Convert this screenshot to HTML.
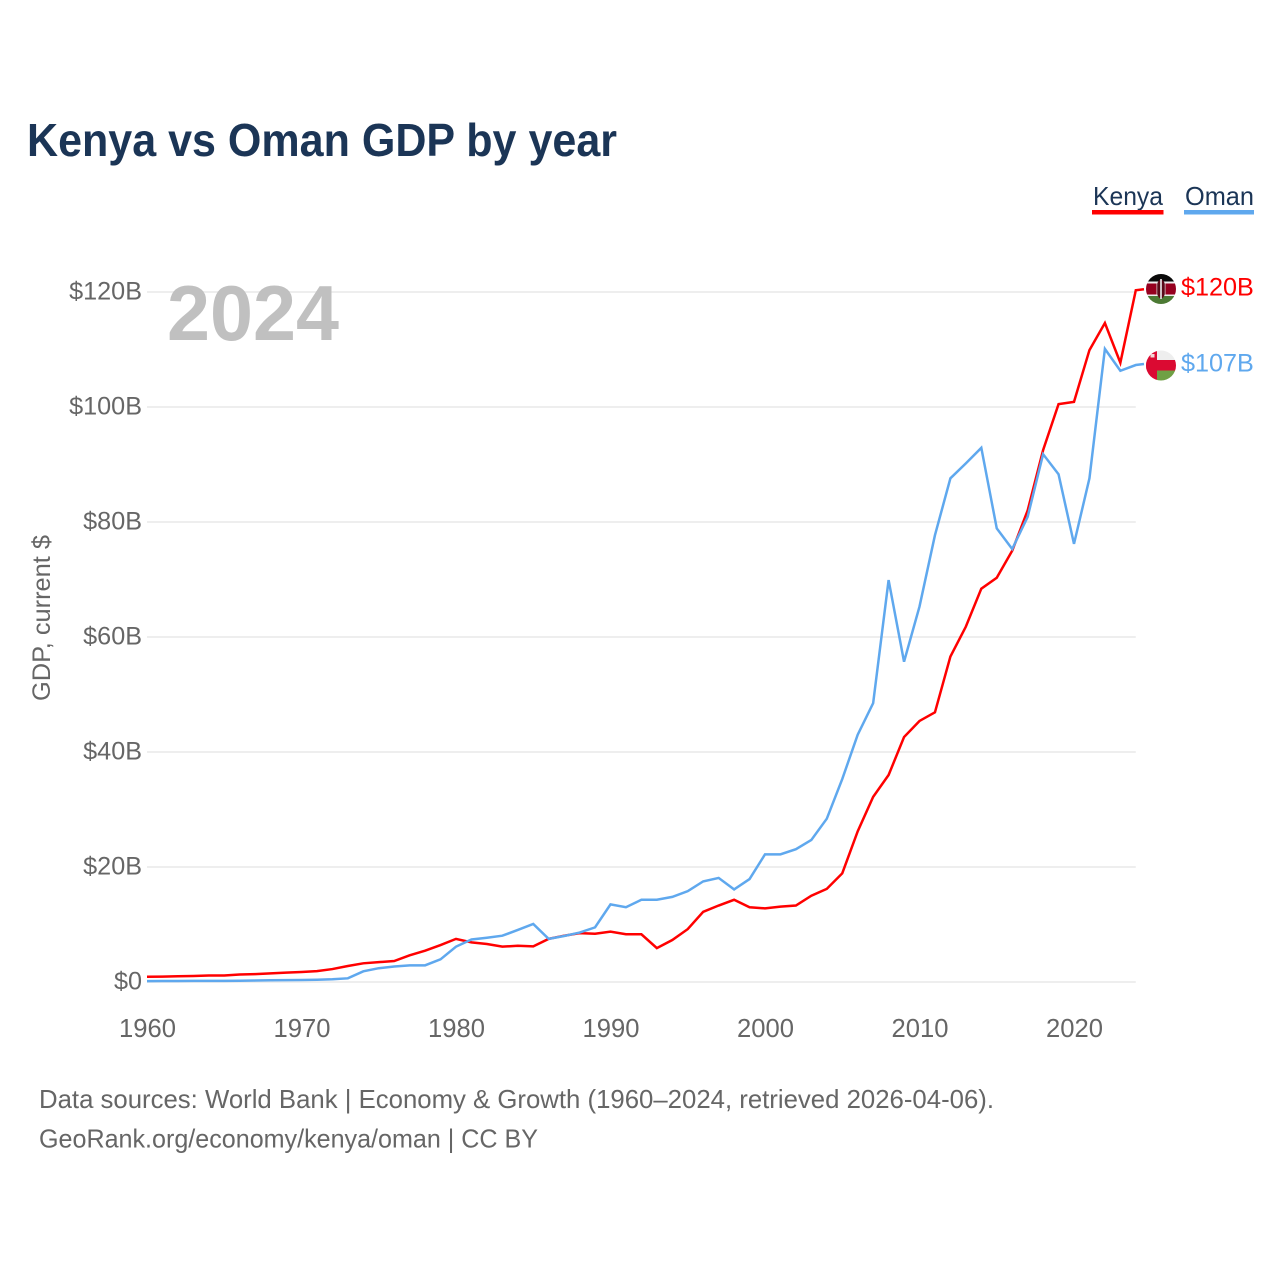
<!DOCTYPE html>
<html lang="en">
<head>
<meta charset="utf-8">
<title>Kenya vs Oman GDP by year</title>
<style>
html,body{margin:0;padding:0;background:#fff;}
svg{display:block;font-family:"Liberation Sans",sans-serif;}
</style>
</head>
<body>
<svg id="chart" width="1280" height="1280" viewBox="0 0 1280 1280" xmlns="http://www.w3.org/2000/svg">
  <defs>
    <clipPath id="clip-kenya"><circle cx="1161" cy="289" r="15"/></clipPath>
    <clipPath id="clip-oman"><circle cx="1161" cy="365.5" r="15"/></clipPath>
  </defs>
  <rect width="1280" height="1280" fill="#fff"/>
  <text x="27" y="156" font-size="46" font-weight="700" fill="#1b3556" textLength="590" lengthAdjust="spacingAndGlyphs">Kenya vs Oman GDP by year</text>

  <g id="grid"></g>
  <g id="y-ticks"></g>
  <g id="x-ticks"></g>

  <text x="167" y="340" font-size="78" font-weight="700" fill="#c0c0c0" textLength="172" lengthAdjust="spacingAndGlyphs">2024</text>
  <text transform="translate(50,618) rotate(-90)" text-anchor="middle" font-size="25" fill="#666" textLength="166" lengthAdjust="spacingAndGlyphs">GDP, current $</text>

  <g id="series"></g>

  <g>
    <g>
      <text x="1093" y="205" font-size="26" fill="#1b3556" textLength="70" lengthAdjust="spacingAndGlyphs">Kenya</text>
      <rect x="1092" y="210" width="71.5" height="4.5" fill="#ff0000"/>
    </g>
    <g>
      <text x="1185" y="205" font-size="26" fill="#1b3556" textLength="69" lengthAdjust="spacingAndGlyphs">Oman</text>
      <rect x="1184" y="210" width="70" height="4.5" fill="#5fa8ee"/>
    </g>
  </g>

  <g clip-path="url(#clip-kenya)">
    <rect x="1146" y="274" width="30" height="8" fill="#0a0a0a"/>
    <rect x="1146" y="281.5" width="30" height="2" fill="#eee"/>
    <rect x="1146" y="283.5" width="30" height="11" fill="#96001f"/>
    <rect x="1146" y="294.5" width="30" height="2" fill="#eee"/>
    <rect x="1146" y="296" width="30" height="9" fill="#4c7a34"/>
    <ellipse cx="1161" cy="289" rx="4.5" ry="9.5" fill="#5a0a18"/>
    <rect x="1160.2" y="279" width="1.6" height="20" fill="#eee"/>
    <rect x="1156.4" y="283" width="0.9" height="12" fill="#eee" opacity="0.7"/>
    <rect x="1164.7" y="283" width="0.9" height="12" fill="#eee" opacity="0.7"/>
  </g>
  <g clip-path="url(#clip-oman)">
    <rect x="1146" y="350" width="30" height="11" fill="#eeeeee"/>
    <rect x="1146" y="350" width="11" height="31" fill="#db0a32"/>
    <rect x="1146" y="360" width="30" height="10.5" fill="#db0a32"/>
    <rect x="1157" y="370.5" width="19" height="11" fill="#6fa044"/>
    <rect x="1150.5" y="354" width="4" height="3.5" fill="#f4d6d6"/>
  </g>

  <text x="1181" y="295.5" font-size="25.2" fill="#ff0000">$120B</text>
  <text x="1181" y="371.5" font-size="25.2" fill="#5fa8ee">$107B</text>

  <text x="39" y="1108" font-size="26" fill="#666" textLength="955" lengthAdjust="spacingAndGlyphs">Data sources: World Bank | Economy &amp; Growth (1960–2024, retrieved 2026-04-06).</text>
  <text x="39" y="1147.5" font-size="26" fill="#666" textLength="499" lengthAdjust="spacingAndGlyphs">GeoRank.org/economy/kenya/oman | CC BY</text>
</svg>
<script>
const startYear = 1960;
const yTicks = [0, 20, 40, 60, 80, 100, 120];
const yTickLabels = ["$0", "$20B", "$40B", "$60B", "$80B", "$100B", "$120B"];
const xTicks = [1960, 1970, 1980, 1990, 2000, 2010, 2020];
const kenyaGdp = [0.92,0.93,0.99,1.05,1.12,1.14,1.3,1.38,1.5,1.62,1.75,1.9,2.25,2.78,3.25,3.45,3.65,4.64,5.44,6.43,7.5,6.9,6.6,6.15,6.3,6.2,7.5,8.05,8.5,8.4,8.75,8.3,8.3,5.9,7.3,9.2,12.2,13.3,14.3,13.0,12.8,13.1,13.3,15.0,16.2,18.9,26.2,32.2,36.0,42.6,45.4,46.9,56.6,61.8,68.4,70.3,75.0,82.0,92.5,100.5,100.9,109.9,114.6,107.7,120.3];
const omanGdp = [0.15,0.17,0.18,0.19,0.2,0.2,0.22,0.25,0.3,0.33,0.35,0.4,0.47,0.64,1.86,2.4,2.7,2.9,2.9,3.95,6.15,7.4,7.7,8.05,9.05,10.1,7.5,8.0,8.6,9.5,13.5,13.0,14.3,14.3,14.8,15.8,17.5,18.1,16.1,17.9,22.2,22.2,23.1,24.7,28.4,35.3,43.0,48.5,69.9,55.7,65.3,77.7,87.6,90.2,92.9,78.9,75.3,80.9,91.8,88.3,76.2,87.6,110.1,106.3,107.3];

const SVG_NS = "http://www.w3.org/2000/svg";
const xScale = function (year) { return 147 + (year - 1960) * 15.45; };
const yScale = function (value) { return 982 - value * 5.75; };

const grid = document.getElementById("grid");
const yGroup = document.getElementById("y-ticks");
const xGroup = document.getElementById("x-ticks");
const seriesGroup = document.getElementById("series");

yTicks.forEach(function (tick, i) {
  const line = document.createElementNS(SVG_NS, "line");
  
  
  line.setAttribute("x1", xScale(1960));
  line.setAttribute("x2", xScale(2024));
  line.setAttribute("y1", yScale(tick));
  line.setAttribute("y2", yScale(tick));
  line.setAttribute("stroke", "#eeeeee");
  line.setAttribute("stroke-width", "2");
  grid.appendChild(line);

  const label = document.createElementNS(SVG_NS, "text");
  
  
  label.setAttribute("x", 142);
  label.setAttribute("y", yScale(tick) + 7.5);
  label.setAttribute("text-anchor", "end");
  label.setAttribute("font-size", "25.2");
  label.setAttribute("fill", "#666");
  label.textContent = yTickLabels[i];
  yGroup.appendChild(label);
});

xTicks.forEach(function (tick) {
  const label = document.createElementNS(SVG_NS, "text");
  
  
  label.setAttribute("x", xScale(tick) + 0.5);
  label.setAttribute("y", 1037);
  label.setAttribute("text-anchor", "middle");
  label.setAttribute("font-size", "25.6");
  label.setAttribute("fill", "#666");
  label.textContent = String(tick);
  xGroup.appendChild(label);
});

function drawSeries(values, color, name) {
  const path = document.createElementNS(SVG_NS, "path");
  
  
  let d = "";
  values.forEach(function (value, i) {
    d += (i === 0 ? "M" : "L") + xScale(startYear + i).toFixed(2) + " " + yScale(value).toFixed(2);
  });
  const last = values[values.length - 1];
  d += "L1144 " + (yScale(last) - 1).toFixed(2);
  path.setAttribute("d", d);
  path.setAttribute("fill", "none");
  path.setAttribute("stroke", color);
  path.setAttribute("stroke-width", "2.5");
  path.setAttribute("stroke-linejoin", "miter");
  seriesGroup.appendChild(path);
}
drawSeries(kenyaGdp, "#ff0000", "kenya-line");
drawSeries(omanGdp, "#5fa8ee", "oman-line");
</script>
</body>
</html>
